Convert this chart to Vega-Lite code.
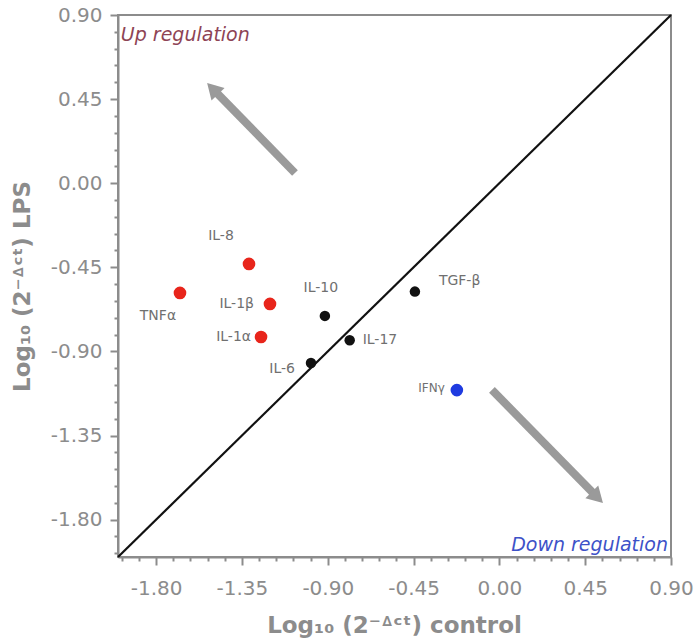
{
  "$schema": "https://vega.github.io/schema/vega-lite/v6.json",
  "width": 553,
  "height": 542,
  "autosize": {"type": "none"},
  "padding": {"left": 118, "top": 15, "right": 27, "bottom": 85},
  "background": "white",
  "config": {
    "view": {"stroke": "#8c8c8c", "strokeWidth": 2},
    "font": "DejaVu Sans",
    "text": {"font": "DejaVu Sans", "fontSize": 14, "color": "#707070", "baseline": "middle"}
  },
  "datasets": {
    "genes": [
      {"gene": "TNFα", "x": -1.675, "y": -0.587, "group": "up"},
      {"gene": "IL-8", "x": -1.313, "y": -0.432, "group": "up"},
      {"gene": "IL-1β", "x": -1.203, "y": -0.646, "group": "up"},
      {"gene": "IL-1α", "x": -1.250, "y": -0.823, "group": "up"},
      {"gene": "IL-10", "x": -0.915, "y": -0.710, "group": "none"},
      {"gene": "IL-17", "x": -0.785, "y": -0.840, "group": "none"},
      {"gene": "IL-6", "x": -0.988, "y": -0.962, "group": "none"},
      {"gene": "TGF-β", "x": -0.443, "y": -0.580, "group": "none"},
      {"gene": "IFNγ", "x": -0.223, "y": -1.107, "group": "down"}
    ],
    "diagonal": [{"x": -2.0, "y": -2.0, "x2": 0.9, "y2": 0.9}],
    "arrows": [
      {"arrow": "up", "x": -1.072, "y": 0.055, "x2": -1.504, "y2": 0.506},
      {"arrow": "down", "x": -0.039, "y": -1.106, "x2": 0.514, "y2": -1.681}
    ],
    "heads": [
      {"arrow": "up", "x": -1.504, "y": 0.506},
      {"arrow": "down", "x": 0.514, "y": -1.681}
    ],
    "notes": [
      {"note": "Up regulation", "x": -1.985, "y": 0.793, "kind": "up"},
      {"note": "Down regulation", "x": 0.884, "y": -1.936, "kind": "down"}
    ]
  },
  "encoding": {
    "x": {
      "field": "x",
      "type": "quantitative",
      "scale": {"domain": [-2.0, 0.9], "nice": false, "zero": false},
      "axis": {
        "title": "Log₁₀ (2⁻ᐞᶜᵗ) control",
        "values": [-1.98, -1.89, -1.8, -1.71, -1.62, -1.53, -1.44, -1.35, -1.26, -1.17, -1.08, -0.99, -0.9, -0.81, -0.72, -0.63, -0.54, -0.45, -0.36, -0.27, -0.18, -0.09, 0, 0.09, 0.18, 0.27, 0.36, 0.45, 0.54, 0.63, 0.72, 0.81, 0.9],
        "labelExpr": "abs(datum.value/0.45 - round(datum.value/0.45)) < 0.01 ? replace(format(datum.value, '.2f'), '−', '-') : ''",
        "tickSize": {"condition": {"test": "abs(datum.value/0.45 - round(datum.value/0.45)) < 0.01", "value": 8}, "value": 4},
        "grid": false,
        "domainColor": "#8c8c8c",
        "domainWidth": 2,
        "tickColor": "#8c8c8c",
        "tickWidth": 2,
        "labelFont": "DejaVu Sans",
        "labelFontSize": 20,
        "labelColor": "#8c8c8c",
        "labelPadding": 13,
        "labelOverlap": false,
        "labelFlush": false,
        "labelBound": false,
        "titleFont": "DejaVu Sans",
        "titleFontSize": 23,
        "titleFontWeight": "bold",
        "titleColor": "#8c8c8c",
        "titleX": 276,
        "titleY": 68,
        "titleAlign": "center",
        "titleBaseline": "middle"
      }
    },
    "y": {
      "field": "y",
      "type": "quantitative",
      "scale": {"domain": [-2.0, 0.9], "nice": false, "zero": false},
      "axis": {
        "title": "Log₁₀ (2⁻ᐞᶜᵗ) LPS",
        "values": [-1.98, -1.89, -1.8, -1.71, -1.62, -1.53, -1.44, -1.35, -1.26, -1.17, -1.08, -0.99, -0.9, -0.81, -0.72, -0.63, -0.54, -0.45, -0.36, -0.27, -0.18, -0.09, 0, 0.09, 0.18, 0.27, 0.36, 0.45, 0.54, 0.63, 0.72, 0.81, 0.9],
        "labelExpr": "abs(datum.value/0.45 - round(datum.value/0.45)) < 0.01 ? replace(format(datum.value, '.2f'), '−', '-') : ''",
        "tickSize": {"condition": {"test": "abs(datum.value/0.45 - round(datum.value/0.45)) < 0.01", "value": 8}, "value": 4},
        "grid": false,
        "domainColor": "#8c8c8c",
        "domainWidth": 2,
        "tickColor": "#8c8c8c",
        "tickWidth": 2,
        "labelFont": "DejaVu Sans",
        "labelFontSize": 20,
        "labelColor": "#8c8c8c",
        "labelPadding": 8,
        "labelOverlap": false,
        "labelFlush": false,
        "labelBound": false,
        "titleFont": "DejaVu Sans",
        "titleFontSize": 23,
        "titleFontWeight": "bold",
        "titleColor": "#8c8c8c",
        "titleX": -96,
        "titleY": 271,
        "titleAngle": -90,
        "titleAlign": "center",
        "titleBaseline": "middle"
      }
    }
  },
  "layer": [
    {
      "data": {"name": "diagonal"},
      "mark": {"type": "rule", "color": "#111111", "strokeWidth": 2.2},
      "encoding": {"x2": {"field": "x2"}, "y2": {"field": "y2"}}
    },
    {
      "data": {"name": "arrows"},
      "mark": {"type": "rule", "color": "#9a9a9a", "strokeWidth": 8, "strokeCap": "butt"},
      "encoding": {"x2": {"field": "x2"}, "y2": {"field": "y2"}}
    },
    {
      "data": {"name": "heads"},
      "transform": [{"filter": "datum.arrow === 'up'"}],
      "mark": {"type": "point", "shape": "triangle-up", "filled": true, "color": "#9a9a9a", "opacity": 1, "size": 330, "angle": 316}
    },
    {
      "data": {"name": "heads"},
      "transform": [{"filter": "datum.arrow === 'down'"}],
      "mark": {"type": "point", "shape": "triangle-up", "filled": true, "color": "#9a9a9a", "opacity": 1, "size": 330, "angle": 135}
    },
    {
      "data": {"name": "genes"},
      "transform": [{"filter": "datum.group === 'up'"}],
      "mark": {"type": "circle", "opacity": 1, "color": "#e8251b", "size": 160}
    },
    {
      "data": {"name": "genes"},
      "transform": [{"filter": "datum.group === 'none'"}],
      "mark": {"type": "circle", "opacity": 1, "color": "#111111", "size": 110}
    },
    {
      "data": {"name": "genes"},
      "transform": [{"filter": "datum.group === 'down'"}],
      "mark": {"type": "circle", "opacity": 1, "color": "#1f3be0", "size": 160}
    },
    {
      "data": {"name": "genes"},
      "transform": [{"filter": "datum.gene === 'TNFα'"}],
      "mark": {"type": "text", "align": "center", "dx": -22, "dy": 23},
      "encoding": {"text": {"field": "gene"}}
    },
    {
      "data": {"name": "genes"},
      "transform": [{"filter": "datum.gene === 'IL-8'"}],
      "mark": {"type": "text", "align": "center", "dx": -28, "dy": -28},
      "encoding": {"text": {"field": "gene"}}
    },
    {
      "data": {"name": "genes"},
      "transform": [{"filter": "datum.gene === 'IL-1β'"}],
      "mark": {"type": "text", "align": "right", "dx": -16, "dy": 0},
      "encoding": {"text": {"field": "gene"}}
    },
    {
      "data": {"name": "genes"},
      "transform": [{"filter": "datum.gene === 'IL-1α'"}],
      "mark": {"type": "text", "align": "right", "dx": -10, "dy": 0},
      "encoding": {"text": {"field": "gene"}}
    },
    {
      "data": {"name": "genes"},
      "transform": [{"filter": "datum.gene === 'IL-10'"}],
      "mark": {"type": "text", "align": "center", "dx": -4, "dy": -28},
      "encoding": {"text": {"field": "gene"}}
    },
    {
      "data": {"name": "genes"},
      "transform": [{"filter": "datum.gene === 'IL-17'"}],
      "mark": {"type": "text", "align": "left", "dx": 13, "dy": 0},
      "encoding": {"text": {"field": "gene"}}
    },
    {
      "data": {"name": "genes"},
      "transform": [{"filter": "datum.gene === 'IL-6'"}],
      "mark": {"type": "text", "align": "right", "dx": -16, "dy": 6},
      "encoding": {"text": {"field": "gene"}}
    },
    {
      "data": {"name": "genes"},
      "transform": [{"filter": "datum.gene === 'TGF-β'"}],
      "mark": {"type": "text", "align": "left", "dx": 24, "dy": -11},
      "encoding": {"text": {"field": "gene"}}
    },
    {
      "data": {"name": "genes"},
      "transform": [{"filter": "datum.gene === 'IFNγ'"}],
      "mark": {"type": "text", "align": "right", "dx": -12, "dy": -2, "fontSize": 12},
      "encoding": {"text": {"field": "gene"}}
    },
    {
      "data": {"name": "notes"},
      "transform": [{"filter": "datum.kind === 'up'"}],
      "mark": {"type": "text", "align": "left", "fontStyle": "italic", "fontSize": 19, "color": "#8e4455"},
      "encoding": {"text": {"field": "note"}}
    },
    {
      "data": {"name": "notes"},
      "transform": [{"filter": "datum.kind === 'down'"}],
      "mark": {"type": "text", "align": "right", "fontStyle": "italic", "fontSize": 19, "color": "#3d52c8"},
      "encoding": {"text": {"field": "note"}}
    }
  ]
}
